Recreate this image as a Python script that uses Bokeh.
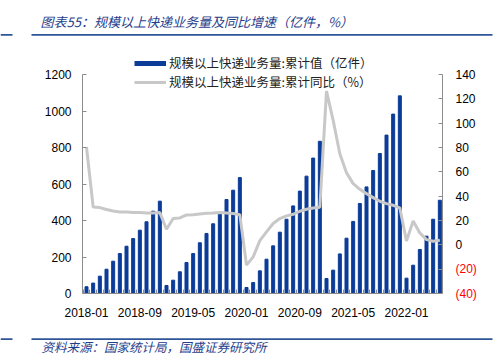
from bokeh.plotting import figure
from bokeh.models import (Range1d, LinearAxis, FixedTicker, Legend, LegendItem,
                          ColumnDataSource)
from bokeh.layouts import column, row
from bokeh.core.properties import value
from bokeh.embed import file_html
from bokeh.resources import INLINE

# ---- data ----
months = [f"{y}-{m:02d}" for y in range(2018, 2023) for m in range(1, 13)][:54]
volume = [37, 57, 95, 133, 177, 219, 259, 301, 347, 393, 451, 506,
          44, 73, 119, 170, 219, 278, 329, 382, 438, 515, 566, 635,
          33, 60, 124, 188, 261, 336, 407, 480, 561, 643, 742, 834,
          82, 128, 217, 303, 395, 493, 584, 674, 767, 868, 983, 1083,
          84, 155, 241, 314, 407, 511]
growth = [80.4, 31.1, 30.6, 29.0, 27.8, 27.0, 27.0, 26.5, 26.5, 26.2, 26.2, 26.5,
          12.8, 21.6, 22.1, 24.6, 24.8, 25.4, 26.0, 26.2, 26.5, 26.2, 25.7, 24.8,
          -16.7, -9.9, 3.5, 10.6, 17.5, 21.6, 23.8, 25.1, 27.6, 29.2, 30.3, 30.9,
          126.3, 102.3, 74.9, 59.3, 50.3, 45.6, 42.1, 38.8, 35.8, 33.9, 32.5, 30.3,
          3.2, 19.6, 9.8, 4.3, 3.0, 3.8]
tick_labels = ["2018-01", "2018-09", "2019-05", "2020-01", "2020-09", "2021-05", "2022-01"]
left_ticks = [0, 200, 400, 600, 800, 1000, 1200]
right_ticks = [-40, -20, 0, 20, 40, 60, 80, 100, 120, 140]
series_names = ["规模以上快递业务量:累计值（亿件）", "规模以上快递业务量:累计同比（%）"]
title_text = "图表55：规模以上快递业务量及同比增速（亿件，%）"
source_text = "资料来源：国家统计局，国盛证券研究所"

BLUE = "#0B3C98"
GREY = "#C8C8C8"
RULE = "#2E5597"
TXT_BLUE = "#1F3E8C"
AX = "#8C8C8C"
NUM_FONT = "Liberation Sans"
CJK = "Noto Sans CJK SC"

W = 498
HEAD_H = 52
MID_H = 274
FOOT_H = 354 - HEAD_H - MID_H
FRAME_H = 241          # main plot frame height (canvas y 52..293)
AXIS_H = 219           # pixel span of the real axes (0..1200)
LEFT_B = 82
MAIN_W = 444
RIGHT_W = W - MAIN_W
NAN = float("nan")

idx = list(range(len(months)))


def blank(width, height, xr, yr):
    f = figure(width=width, height=height, output_backend="svg", toolbar_location=None,
               x_range=xr, y_range=yr, x_axis_location=None, y_axis_location=None,
               min_border_left=0, min_border_right=0, min_border_top=0,
               min_border_bottom=0)
    f.frame_align = False
    f.xgrid.visible = False
    f.ygrid.visible = False
    f.outline_line_color = None
    f.background_fill_color = "white"
    f.border_fill_color = "white"
    return f


# ---- header: title + rules ----
head = blank(W, HEAD_H, Range1d(0, W), Range1d(HEAD_H, 0))
head.text(x=[40], y=[21], text=[title_text], text_font=value(CJK), text_font_size="13px",
          text_font_style="italic", text_color=TXT_BLUE, text_baseline="middle")
head.quad(left=[31, 0], right=[492, 12], top=[33.5, 33.5], bottom=[35.2, 35.2],
          color=RULE, line_color=None)

# ---- main chart ----
y_end = 1200 * FRAME_H / AXIS_H
r_end = -40 + 180 * FRAME_H / AXIS_H
p = figure(width=MAIN_W, height=MID_H, output_backend="svg", toolbar_location=None,
           x_range=Range1d(-0.6, 53.4), y_range=Range1d(0, y_end),
           min_border_left=LEFT_B, min_border_right=2, min_border_top=0,
           min_border_bottom=MID_H - FRAME_H)
p.frame_align = False
right_range = Range1d(-40, r_end)
p.extra_y_ranges = {"right": right_range}
p.xgrid.visible = False
p.ygrid.visible = False
p.outline_line_color = None
p.background_fill_color = "white"
p.border_fill_color = "white"

p.vbar(x=idx, top=volume, width=0.45, color=BLUE)
p.line(x=idx, y=growth, y_range_name="right", line_width=3, color=GREY)

lg_bar = p.line(x=[0, 1], y=[NAN, NAN], line_width=5, color=BLUE, line_cap="butt")
lg_line = p.line(x=[0, 1], y=[NAN, NAN], line_width=3, color=GREY)

xa = p.xaxis[0]
xa.ticker = FixedTicker(ticks=[idx[months.index(t)] for t in tick_labels],
                        minor_ticks=[i - 0.5 for i in range(len(months) + 1)])
xa.major_label_overrides = {idx[months.index(t)]: t for t in tick_labels}
xa.major_tick_line_color = None
xa.minor_tick_in = 4
xa.minor_tick_out = 0
xa.minor_tick_line_color = AX
xa.axis_line_color = AX
xa.major_label_text_font = NUM_FONT
xa.major_label_text_font_size = "12px"
xa.major_label_text_color = "black"
xa.major_label_standoff = 8

ya = p.yaxis[0]
ya.ticker = FixedTicker(ticks=left_ticks)
ya.bounds = (0, 1200)
ya.major_tick_in = 4
ya.major_tick_out = 0
ya.minor_tick_line_color = None
ya.axis_line_color = AX
ya.major_tick_line_color = AX
ya.major_label_text_font = NUM_FONT
ya.major_label_text_font_size = "12px"
ya.major_label_text_color = "black"
ya.major_label_standoff = 11

ra = LinearAxis(y_range_name="right", ticker=FixedTicker(ticks=right_ticks))
ra.bounds = (-40, 140)
ra.major_tick_in = 4
ra.major_tick_out = 0
ra.minor_tick_line_color = None
ra.axis_line_color = AX
ra.major_tick_line_color = AX
ra.major_label_text_font_size = "0px"
ra.major_label_standoff = 0
ra.major_label_overrides = {t: "" for t in right_ticks}
p.add_layout(ra, "right")

# one single-item legend per row
for name, rend, ly in [(series_names[0], lg_bar, 221), (series_names[1], lg_line, 202)]:
    lg = Legend(items=[LegendItem(label=name, renderers=[rend])],
                location=(52, ly), orientation="vertical",
                background_fill_alpha=0, border_line_color=None,
                label_text_font=CJK, label_text_font_size="12.5px",
                label_text_color="#222222", glyph_width=32, glyph_height=12,
                label_height=12, spacing=0, padding=0, margin=0, label_standoff=3)
    p.add_layout(lg, "center")

# ---- right-axis tick labels (negative values shown red in parentheses) ----
r_start = -40 - 180 * (MID_H - FRAME_H) / AXIS_H
rlab = blank(RIGHT_W, MID_H, Range1d(0, RIGHT_W), Range1d(r_start, r_end))
rsrc = ColumnDataSource(dict(
    y=right_ticks,
    text=[f"({-t})" if t < 0 else f"{t}" for t in right_ticks],
    color=["red" if t < 0 else "black" for t in right_ticks]))
rlab.text(x=11, y="y", text="text", text_color="color", source=rsrc,
          text_font=value(NUM_FONT), text_font_size="12px",
          text_align="left", text_baseline="middle")

# ---- footer: rules + source ----
foot = blank(W, FOOT_H, Range1d(0, W), Range1d(354, 354 - FOOT_H))
foot.quad(left=[31, 0], right=[492, 12], top=[337.8, 337.8], bottom=[339.4, 339.4],
          color=RULE, line_color=None)
foot.text(x=[41], y=[345.5], text=[source_text], text_font=value(CJK),
          text_font_size="12.5px", text_font_style="italic", text_color=TXT_BLUE,
          text_baseline="middle")

layout = column(head, row(p, rlab, spacing=0), foot, spacing=0)
open("out.html", "w").write(file_html(layout, INLINE))
